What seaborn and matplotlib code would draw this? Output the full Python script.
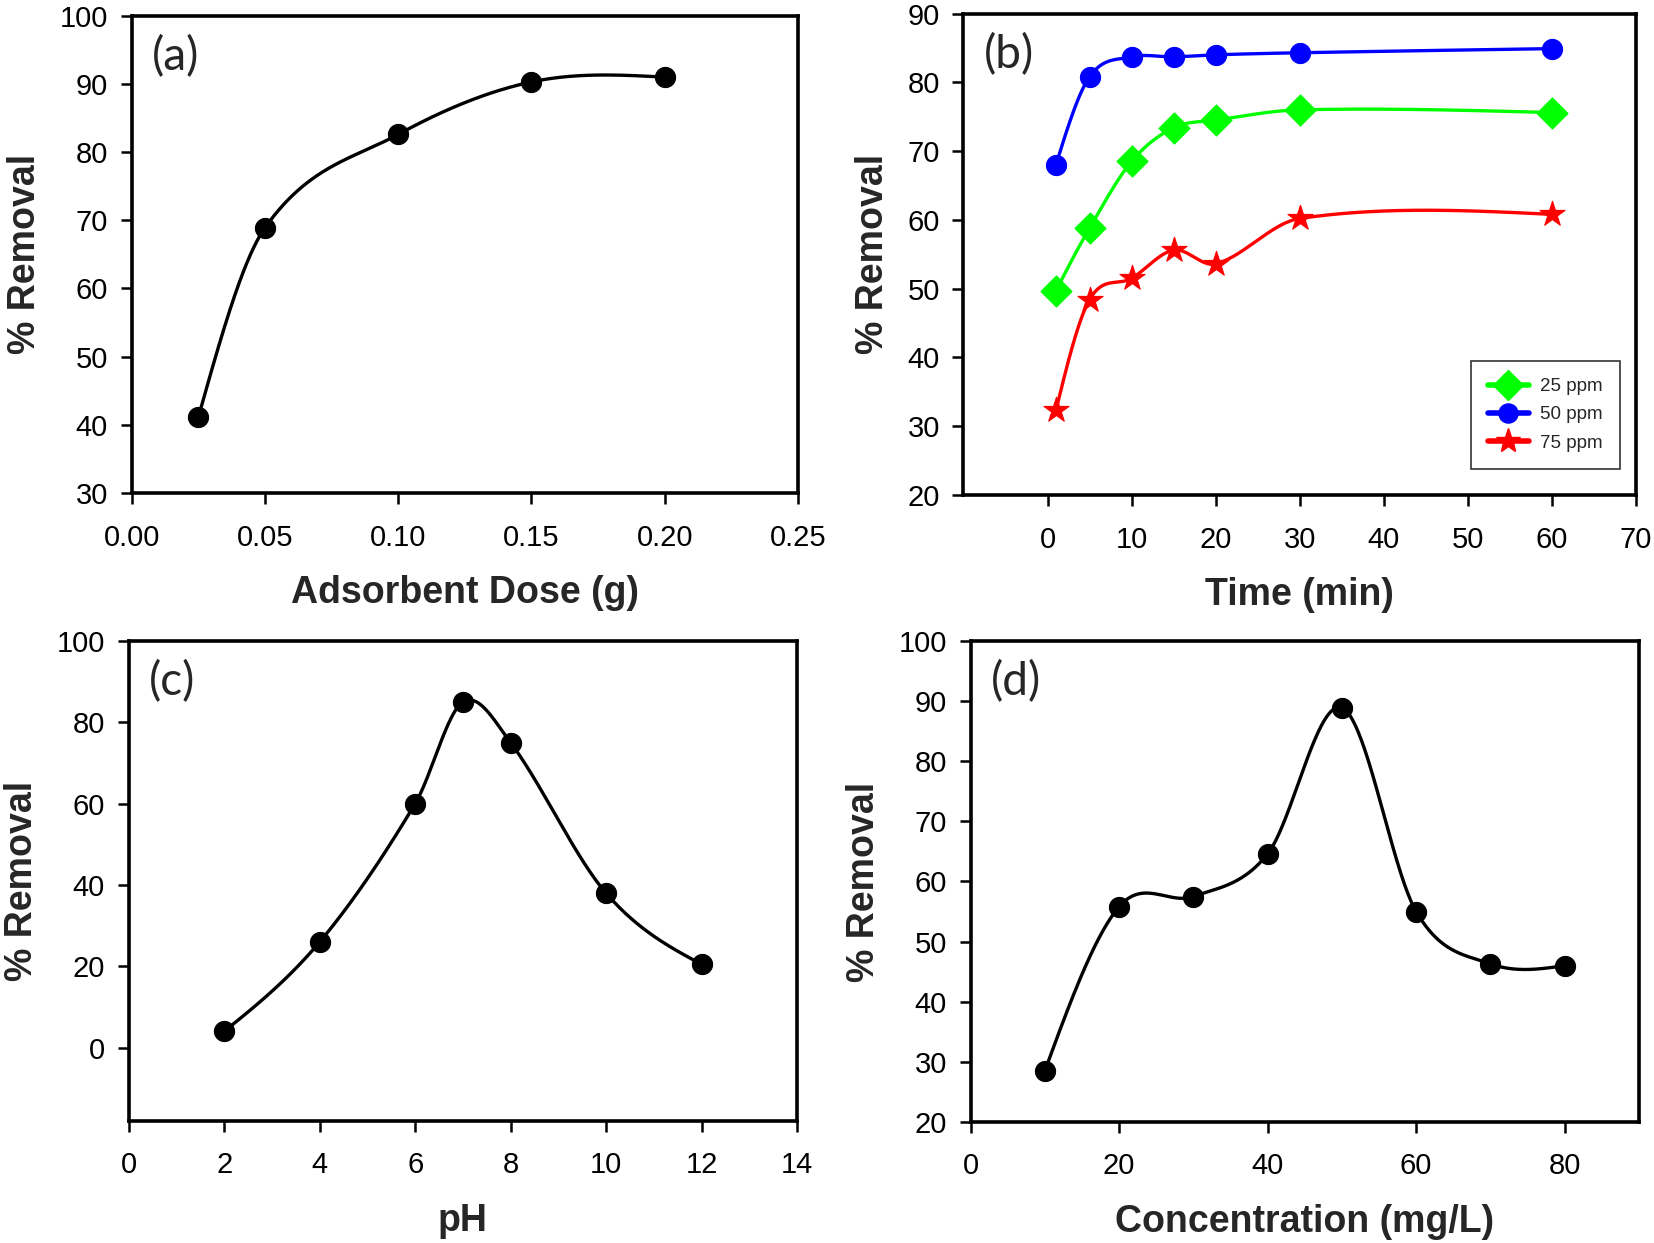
import numpy as np
import matplotlib
matplotlib.use('Agg')
import matplotlib.pyplot as plt
from matplotlib.lines import Line2D
import seaborn as sns

# --- data ---
dose_g = [0.025, 0.05, 0.10, 0.15, 0.20]
dose_removal = [41.1, 68.9, 82.6, 90.3, 91.0]

time_min = [1, 5, 10, 15, 20, 30, 60]
removal_25ppm = [49.7, 58.8, 68.5, 73.4, 74.5, 76.0, 75.6]
removal_50ppm = [68.0, 80.8, 83.7, 83.7, 84.0, 84.3, 84.9]
removal_75ppm = [32.3, 48.4, 51.5, 55.6, 53.6, 60.2, 60.8]

ph = [2, 4, 6, 7, 8, 10, 12]
ph_removal = [4.0, 26.0, 60.0, 85.0, 75.0, 38.0, 20.5]

conc = [10, 20, 30, 40, 50, 60, 70, 80]
conc_removal = [28.5, 55.8, 57.5, 64.6, 88.9, 55.0, 46.3, 46.0]

sns.set_style('ticks')
plt.rcParams['font.family'] = ['Liberation Sans', 'DejaVu Sans']
plt.rcParams['axes.linewidth'] = 2.6
plt.rcParams['xtick.major.width'] = 1.8
plt.rcParams['ytick.major.width'] = 1.8
plt.rcParams['xtick.major.size'] = 8
plt.rcParams['ytick.major.size'] = 8
plt.rcParams['xtick.direction'] = 'out'
plt.rcParams['ytick.direction'] = 'out'


def spline_curve(x, y, n=500):
    # cubic Hermite through the points, slopes from neighbouring points,
    # zero curvature at the two ends
    x = np.asarray(x, float)
    y = np.asarray(y, float)
    m = np.empty(len(x))
    m[1:-1] = (y[2:] - y[:-2]) / (x[2:] - x[:-2])
    c0 = (y[1] - y[0]) / (x[1] - x[0])
    c1 = (y[-1] - y[-2]) / (x[-1] - x[-2])
    m[0] = (3 * c0 - m[1]) / 2
    m[-1] = (3 * c1 - m[-2]) / 2
    xs = np.linspace(x[0], x[-1], n)
    i = np.clip(np.searchsorted(x, xs) - 1, 0, len(x) - 2)
    h = x[i + 1] - x[i]
    t = (xs - x[i]) / h
    h00 = 2 * t ** 3 - 3 * t ** 2 + 1
    h10 = t ** 3 - 2 * t ** 2 + t
    h01 = -2 * t ** 3 + 3 * t ** 2
    h11 = t ** 3 - t ** 2
    ys = h00 * y[i] + h10 * h * m[i] + h01 * y[i + 1] + h11 * h * m[i + 1]
    return xs, ys


def draw_series(ax, x, y, color, marker, size):
    xs, ys = spline_curve(x, y)
    sns.lineplot(x=xs, y=ys, ax=ax, color=color, linewidth=2.4, sort=False, estimator=None)
    sns.scatterplot(x=x, y=y, ax=ax, color=color, marker=marker, s=size,
                    edgecolor='black' if color == 'black' else color, linewidth=0.8, zorder=3)


def style_axis(ax, letter, xlabel):
    for sp in ax.spines.values():
        sp.set_visible(True)
        sp.set_color('black')
    ax.tick_params(labelsize=21, pad=9, colors='black')
    ax.tick_params(axis='x', pad=14)
    ax.set_xlabel(xlabel, fontsize=27, fontweight='bold', labelpad=17)
    ax.set_ylabel('% Removal', fontsize=27, fontweight='bold', labelpad=12)
    ax.text(0.03, 0.915, letter, transform=ax.transAxes, fontsize=33,
            family=['Lato', 'DejaVu Sans'], va='center', ha='left')


fig = plt.figure(figsize=(16.54, 12.43), dpi=100)
ax_a = fig.add_axes([0.0796, 0.6034, 0.4029, 0.3839])
ax_b = fig.add_axes([0.5825, 0.6018, 0.4066, 0.3873])
ax_c = fig.add_axes([0.0778, 0.0982, 0.4041, 0.3861])
ax_d = fig.add_axes([0.5868, 0.0974, 0.4041, 0.3869])

# (a) adsorbent dose
draw_series(ax_a, dose_g, dose_removal, 'black', 'o', 210)
ax_a.set_xlim(0, 0.25)
ax_a.set_ylim(30, 100)
ax_a.set_xticks(np.arange(0, 0.26, 0.05))
ax_a.set_xticklabels([f'{v:.2f}' for v in np.arange(0, 0.26, 0.05)])
ax_a.set_yticks(range(30, 101, 10))
style_axis(ax_a, '(a)', 'Adsorbent Dose (g)')

# (b) contact time, three concentrations
series_b = [('25 ppm', removal_25ppm, '#00ff00', 'D', 250),
            ('50 ppm', removal_50ppm, '#0000ff', 'o', 210),
            ('75 ppm', removal_75ppm, '#ff0000', '*', 360)]
handles = []
for label, vals, col, mk, sz in series_b:
    draw_series(ax_b, time_min, vals, col, mk, sz)
    handles.append(Line2D([], [], color=col, marker=mk, lw=4,
                          markersize=np.sqrt(sz) * 0.95, label=label))
ax_b.set_xlim(-10, 70)
ax_b.set_ylim(20, 90)
ax_b.set_xticks(range(0, 71, 10))
ax_b.set_yticks(range(20, 91, 10))
style_axis(ax_b, '(b)', 'Time (min)')
leg = ax_b.legend(handles=handles, loc='lower right', bbox_to_anchor=(0.99, 0.035),
                  fontsize=13.5, frameon=True, fancybox=False, edgecolor='black',
                  handlelength=2.2, borderpad=0.9, labelspacing=0.6, handletextpad=0.6)
leg.get_frame().set_linewidth(1.2)

# (c) pH
draw_series(ax_c, ph, ph_removal, 'black', 'o', 210)
ax_c.set_xlim(0, 14)
ax_c.set_ylim(-18, 100)
ax_c.set_xticks(range(0, 15, 2))
ax_c.set_yticks(range(0, 101, 20))
style_axis(ax_c, '(c)', 'pH')

# (d) initial concentration
draw_series(ax_d, conc, conc_removal, 'black', 'o', 210)
ax_d.set_xlim(0, 90)
ax_d.set_ylim(20, 100)
ax_d.set_xticks(range(0, 81, 20))
ax_d.set_yticks(range(20, 101, 10))
style_axis(ax_d, '(d)', 'Concentration (mg/L)')

fig.savefig('out.png', dpi=100, facecolor='white')
